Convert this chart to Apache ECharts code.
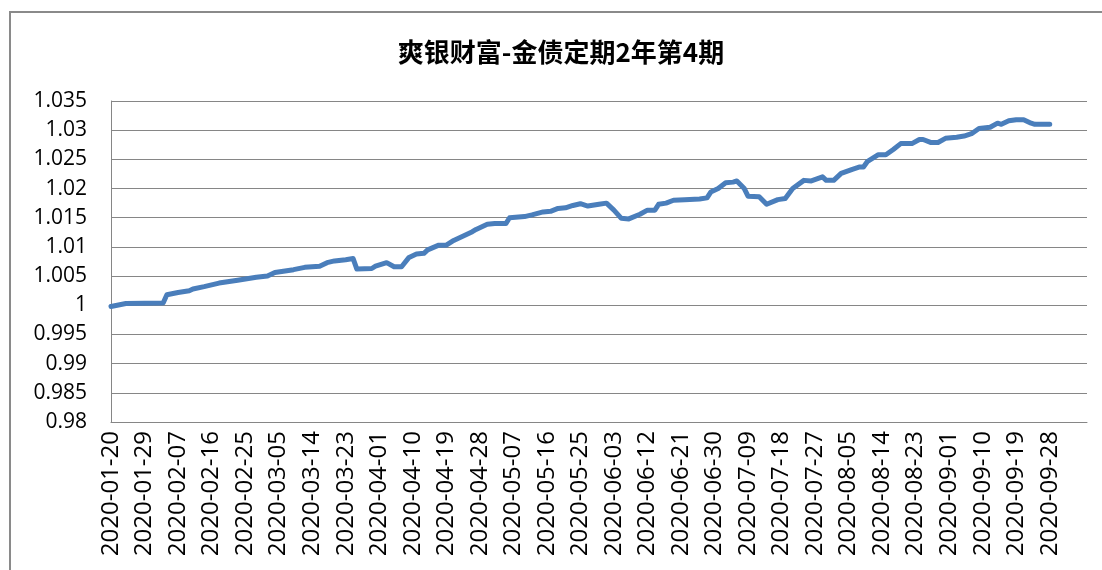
<!DOCTYPE html>
<html>
<head>
<meta charset="utf-8">
<script src="https://cdn.jsdelivr.net/npm/echarts@6/dist/echarts.min.js"></script>
<style>
html,body{margin:0;padding:0;background:#fff;}
#c{width:1102px;height:570px;}
</style>
</head>
<body>
<div id="c"></div>
<script>
var titleText = '爽银财富-金债定期2年第4期';
var startDate = '2020-01-20';
var lastLabelDate = '2020-09-28';
var dates = ['2020-01-20','2020-01-24','2020-02-03','2020-02-04','2020-02-07','2020-02-10','2020-02-11','2020-02-14','2020-02-18','2020-02-23','2020-02-28','2020-03-02','2020-03-04','2020-03-09','2020-03-12','2020-03-16','2020-03-18','2020-03-20','2020-03-23','2020-03-25','2020-03-26','2020-03-30','2020-03-31','2020-04-03','2020-04-05','2020-04-07','2020-04-09','2020-04-11','2020-04-13','2020-04-14','2020-04-17','2020-04-19','2020-04-21','2020-04-24','2020-04-26','2020-04-27','2020-04-30','2020-05-02','2020-05-05','2020-05-06','2020-05-10','2020-05-12','2020-05-15','2020-05-17','2020-05-19','2020-05-21','2020-05-23','2020-05-25','2020-05-27','2020-05-30','2020-06-01','2020-06-03','2020-06-05','2020-06-07','2020-06-10','2020-06-12','2020-06-14','2020-06-15','2020-06-17','2020-06-19','2020-06-22','2020-06-26','2020-06-28','2020-06-29','2020-07-01','2020-07-03','2020-07-05','2020-07-06','2020-07-08','2020-07-09','2020-07-12','2020-07-14','2020-07-17','2020-07-19','2020-07-21','2020-07-24','2020-07-26','2020-07-29','2020-07-30','2020-08-01','2020-08-03','2020-08-06','2020-08-08','2020-08-09','2020-08-10','2020-08-13','2020-08-15','2020-08-17','2020-08-19','2020-08-22','2020-08-24','2020-08-25','2020-08-27','2020-08-29','2020-08-31','2020-09-03','2020-09-05','2020-09-07','2020-09-09','2020-09-12','2020-09-14','2020-09-15','2020-09-17','2020-09-19','2020-09-21','2020-09-23','2020-09-24','2020-09-28'];
var values = [0.9998,1.0003,1.0004,1.0018,1.0022,1.0025,1.0028,1.0032,1.0038,1.0043,1.0048,1.0050,1.0056,1.0061,1.0065,1.0067,1.0073,1.0076,1.0078,1.0080,1.0062,1.0063,1.0067,1.0073,1.0066,1.0066,1.0082,1.0088,1.0089,1.0095,1.0103,1.0103,1.0111,1.0120,1.0126,1.0130,1.0139,1.0140,1.0140,1.0150,1.0152,1.0155,1.0160,1.0161,1.0166,1.0167,1.0171,1.0174,1.0170,1.0173,1.0175,1.0163,1.0149,1.0148,1.0156,1.0163,1.0163,1.0173,1.0175,1.0180,1.0181,1.0182,1.0184,1.0194,1.0200,1.0210,1.0211,1.0213,1.0200,1.0187,1.0186,1.0173,1.0181,1.0183,1.0200,1.0214,1.0213,1.0220,1.0214,1.0214,1.0226,1.0233,1.0237,1.0237,1.0246,1.0258,1.0258,1.0267,1.0277,1.0277,1.0284,1.0284,1.0279,1.0279,1.0286,1.0288,1.0290,1.0294,1.0303,1.0305,1.0312,1.0310,1.0316,1.0318,1.0318,1.0312,1.0310,1.0310];
var labelStepDays = 9;
var axisEndDays = 262;
var yMin = 0.98, yMax = 1.035, yStep = 0.005;

var DAY = 86400000;
function toMs(s){ var p=s.split('-'); return Date.UTC(+p[0],+p[1]-1,+p[2]); }
function toDays(s){ return Math.round((toMs(s) - toMs(startDate))/DAY); }
function fmt(d){ var t=new Date(toMs(startDate)+d*DAY); var m=t.getUTCMonth()+1, dd=t.getUTCDate(); return t.getUTCFullYear()+'-'+(m<10?'0':'')+m+'-'+(dd<10?'0':'')+dd; }
var lastLabelDay = toDays(lastLabelDate);

var seriesData = dates.map(function(d,i){ return [toDays(d), values[i]]; });

var chart = echarts.init(document.getElementById('c'), null, {renderer:'canvas'});
chart.setOption({
  backgroundColor:'#fff',
  animation:false,
  title:{
    text:titleText, left:556, top:34, textAlign:'center',
    textStyle:{fontFamily:'Noto Sans CJK SC', fontSize:26, fontWeight:'bold', color:'#000'}
  },
  graphic:[{
    type:'rect', shape:{x:10, y:12, width:1200, height:700},
    style:{fill:null, stroke:'#8a8a8a', lineWidth:2}, silent:true
  }],
  grid:{left:111, top:101, width:976, height:321},
  xAxis:{
    type:'value', min:0, max:axisEndDays, interval:labelStepDays,
    splitLine:{show:false},
    axisTick:{show:false},
    axisLine:{lineStyle:{color:'#868686', width:1}},
    axisLabel:{
      rotate:90, margin:9, color:'#000', fontSize:24, fontFamily:'Open Sans',
      showMaxLabel:false,
      formatter:function(v){ return (v % labelStepDays === 0 && v <= lastLabelDay) ? fmt(v) : ''; }
    }
  },
  yAxis:{
    type:'value', min:yMin, max:yMax, interval:yStep,
    axisLine:{show:true, lineStyle:{color:'#868686', width:1}},
    axisTick:{show:false},
    splitLine:{lineStyle:{color:'#868686', width:1}},
    axisLabel:{margin:24, color:'#000', fontSize:21, fontFamily:'Open Sans',
      formatter:function(v){ return String(parseFloat(v.toFixed(3))); }}
  },
  series:[{
    type:'line', data:seriesData, symbol:'none', smooth:false,
    lineStyle:{color:'#4A7EBB', width:5, cap:'round', join:'round'}
  }]
});
</script>
</body>
</html>
